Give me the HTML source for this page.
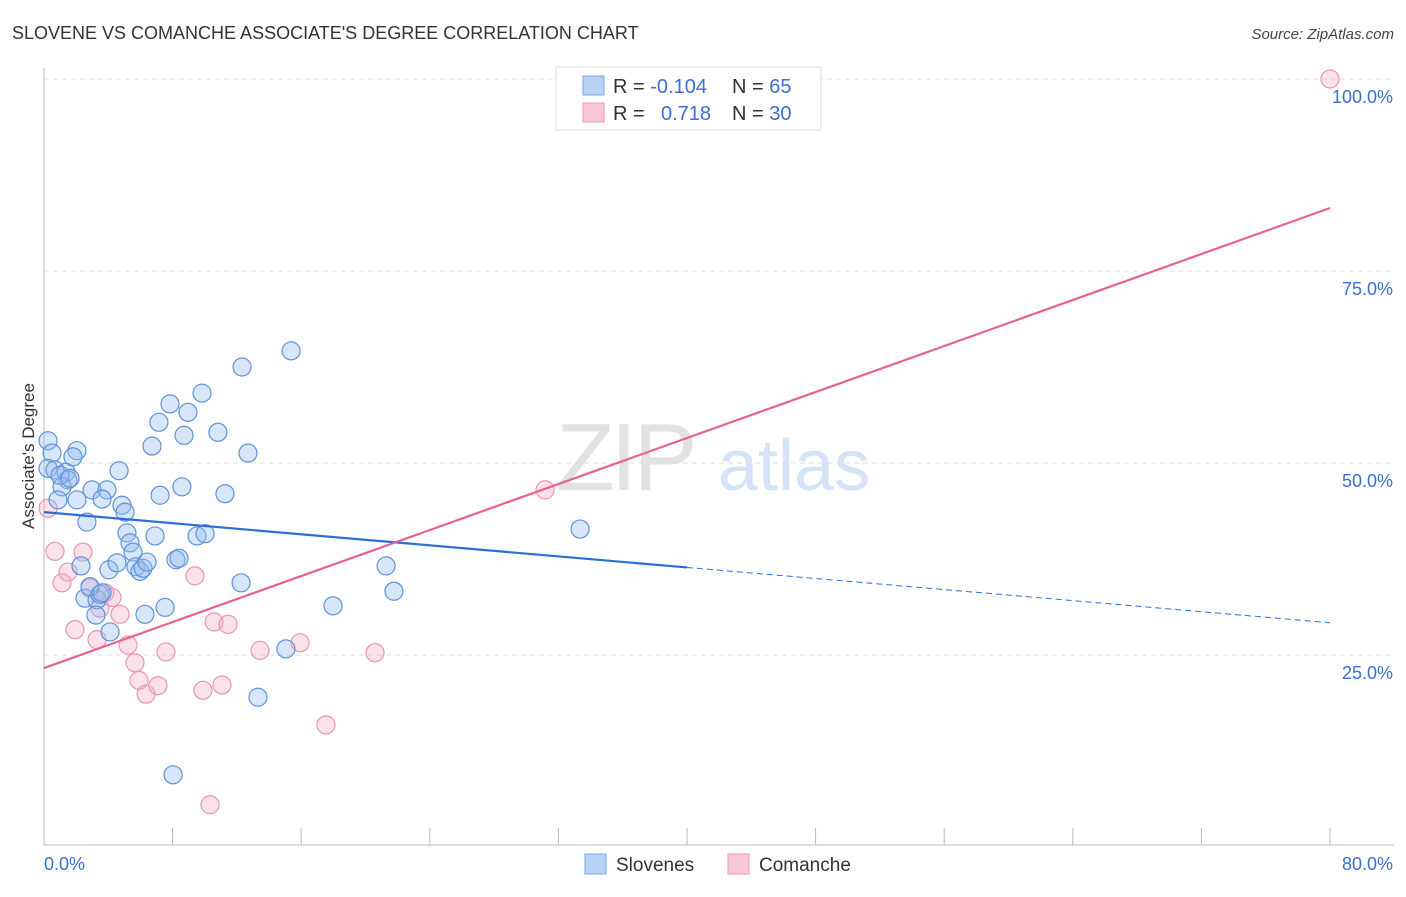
<!DOCTYPE html>
<html><head><meta charset="utf-8"><style>
body{margin:0;background:#fff;font-family:"Liberation Sans",sans-serif;}
svg text{font-family:"Liberation Sans",sans-serif;}
</style></head><body>
<svg id="chart" width="1406" height="892" xmlns="http://www.w3.org/2000/svg">
<text x="12" y="39" font-size="18" fill="#333">SLOVENE VS COMANCHE ASSOCIATE'S DEGREE CORRELATION CHART</text>
<text x="1394" y="39" font-size="15" fill="#444" text-anchor="end" font-style="italic">Source: ZipAtlas.com</text>
<g>
<text x="556" y="490" font-size="96" fill="#e2e2e2" font-family="Liberation Serif,serif" letter-spacing="-4">ZIP</text>
<text x="718" y="490" font-size="72" fill="#d4e3f7">atlas</text>
</g>
<g id="grid"></g>
<g id="axes"></g>
<g id="marks"></g>
<text transform="translate(34,456) rotate(-90)" font-size="17" fill="#333" text-anchor="middle">Associate's Degree</text>
<g>
<rect x="556" y="67" width="265" height="63" fill="#fff" stroke="#ddd"/>
<rect x="583" y="76" width="21" height="19" fill="#b7d2f5" stroke="#7aa7e4"/>
<rect x="583" y="103" width="21" height="19" fill="#f9c6d5" stroke="#ee9ab4"/>
<text x="613" y="93" font-size="20" fill="#333">R = <tspan fill="#3a6fd1">-0.104</tspan></text>
<text x="732" y="93" font-size="20" fill="#333">N = <tspan fill="#3a6fd1">65</tspan></text>
<text x="613" y="120" font-size="20" fill="#333">R = <tspan fill="#3a6fd1" x="661">0.718</tspan></text>
<text x="732" y="120" font-size="20" fill="#333">N = <tspan fill="#3a6fd1">30</tspan></text>
</g>
<g>
<rect x="585" y="854" width="21" height="20" fill="#b7d2f5" stroke="#7aa7e4"/>
<text x="616" y="871" font-size="19" fill="#333">Slovenes</text>
<rect x="728" y="854" width="21" height="20" fill="#f9c6d5" stroke="#ee9ab4"/>
<text x="759" y="871" font-size="19" fill="#333">Comanche</text>
</g>
</svg>
<script>
const yTicks=[25,50,75,100];
const yTickLabels=["25.0%","50.0%","75.0%","100.0%"];
const xTickCount=[0,8,16,24,32,40,48,56,64,72,80];
const sloveneX=[0.25,0.5,0.25,0.68,1.37,1.49,1.12,0.87,2.05,1.8,2.99,3.92,3.61,2.05,2.67,4.67,4.85,5.04,6.72,7.15,7.84,8.96,8.71,9.83,10.82,12.32,15.37,12.69,7.22,8.58,11.26,5.16,5.35,5.54,6.91,9.52,10.02,2.3,4.04,4.54,5.72,5.97,6.16,6.41,8.21,8.4,2.55,3.3,3.48,3.23,4.11,6.28,7.53,12.26,17.98,21.28,21.77,15.05,13.31,8.03,33.35,2.86,3.61,1.0,1.62];
const sloveneY=[52.9,51.3,49.3,49.1,48.8,47.8,46.9,45.2,51.6,50.8,46.5,46.5,45.3,45.2,42.3,49.0,44.5,43.6,52.2,55.3,57.7,56.6,53.6,59.1,54.0,62.5,64.6,51.3,45.8,46.9,46.0,40.9,39.6,38.4,40.5,40.5,40.8,36.6,36.1,37.0,36.5,35.9,36.3,37.1,37.4,37.6,32.4,32.2,32.9,30.2,28.0,30.3,31.2,34.4,31.4,36.6,33.3,25.8,19.5,9.4,41.4,33.9,33.1,48.4,48.0];
const comancheX=[0.25,0.68,2.43,1.49,1.12,1.93,2.86,3.48,3.79,4.23,4.73,3.3,5.23,5.66,5.91,6.35,7.09,7.59,9.39,10.58,11.45,9.89,11.07,13.44,15.93,17.54,20.59,10.33,31.17,80.0];
const comancheY=[44.1,38.5,38.4,35.8,34.4,28.3,33.7,31.1,33.1,32.5,30.3,27.0,26.3,24.0,21.7,19.9,21.0,25.4,35.3,29.3,29.0,20.4,21.1,25.6,26.6,15.9,25.3,5.5,46.5,100.0];
const sloveneTrend=[43.6,29.2]; // y at x=0 and x=80
const comancheTrend=[23.3,83.2];
const NS='http://www.w3.org/2000/svg';
const X=v=>44+v/80*1286, Y=v=>847-v/100*768;
function mk(tag,attrs,parent){const e=document.createElementNS(NS,tag);for(const k in attrs)e.setAttribute(k,attrs[k]);document.getElementById(parent).appendChild(e);return e;}
yTicks.forEach((t,i)=>{
 const g=mk('line',{x1:44,x2:1394,y1:Y(t),y2:Y(t),stroke:'#ddd','stroke-dasharray':'5,4'},'grid');
 
 
 const l=mk('text',{x:1393,y:Y(t)+24,'font-size':18,fill:'#3a6fd1','text-anchor':'end'},'grid');
 l.textContent=yTickLabels[i];
 
 
});
const ax=mk('line',{x1:44,x2:44,y1:68,y2:845,stroke:'#bbb'},'axes');


const bx=mk('line',{x1:44,x2:1394,y1:845,y2:845,stroke:'#bbb'},'axes');


xTickCount.forEach(t=>{const e=mk('line',{x1:X(t),x2:X(t),y1:828,y2:845,stroke:'#bbb'},'axes');
 
 });
const x0=mk('text',{x:44,y:870,'font-size':18,fill:'#3a6fd1'},'axes');x0.textContent='0.0%';


const x1=mk('text',{x:1393,y:870,'font-size':18,fill:'#3a6fd1','text-anchor':'end'},'axes');x1.textContent='80.0%';


comancheX.forEach((v,i)=>{const c=mk('circle',{cx:X(v),cy:Y(comancheY[i]),r:9,fill:'rgba(244,170,195,0.35)',stroke:'#e996b1','stroke-width':1.2},'marks');
 
 });
sloveneX.forEach((v,i)=>{const c=mk('circle',{cx:X(v),cy:Y(sloveneY[i]),r:9,fill:'rgba(150,188,240,0.38)',stroke:'#5f92db','stroke-width':1.2},'marks');
 
 });
const sm=sloveneTrend[0]+(sloveneTrend[1]-sloveneTrend[0])*0.5;
const t1=mk('line',{x1:X(0),y1:Y(sloveneTrend[0]),x2:X(40),y2:Y(sm),stroke:'#2a6fd6','stroke-width':2.2},'marks');


const t2=mk('line',{x1:X(40),y1:Y(sm),x2:X(80),y2:Y(sloveneTrend[1]),stroke:'#2a6fd6','stroke-width':1,'stroke-dasharray':'6,4'},'marks');


const t3=mk('line',{x1:X(0),y1:Y(comancheTrend[0]),x2:X(80),y2:Y(comancheTrend[1]),stroke:'#e8628f','stroke-width':2.2},'marks');


</script>
</body></html>
